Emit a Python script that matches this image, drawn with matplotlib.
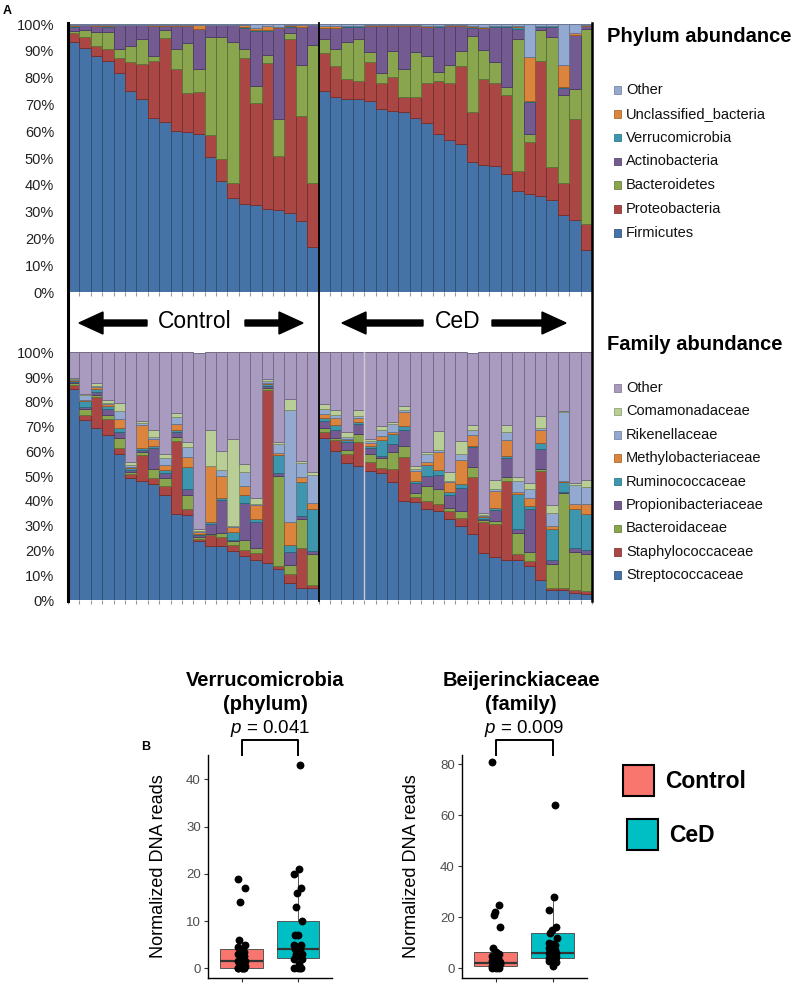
import numpy as np
import matplotlib
matplotlib.use('Agg')
import matplotlib.pyplot as plt
from matplotlib.patches import FancyArrow, Rectangle
from matplotlib.colors import to_rgb

plt.rcParams['font.family'] = ['Liberation Sans', 'DejaVu Sans']
plt.rcParams['mathtext.fontset'] = 'custom'
plt.rcParams['mathtext.it'] = 'Liberation Sans:italic'
plt.rcParams['mathtext.rm'] = 'Liberation Sans'

# ---- Panel A: phylum relative abundance (%), 22 Control then 24 CeD samples
firmicutes = [93.4, 90.9, 88.2, 86.3, 81.6, 75.1, 72.2, 64.8, 63.5, 60.0, 59.8, 58.9, 50.4, 41.6, 35.2, 33.0, 32.6, 31.1, 30.5, 29.6, 26.4, 16.8,
              75.1, 72.6, 72.2, 71.9, 71.4, 68.1, 67.6, 67.2, 65.1, 62.9, 58.9, 56.7, 55.2, 48.6, 47.4, 47.2, 44.1, 37.7, 36.7, 35.7, 34.5, 28.8, 26.8, 15.8]
proteobacteria = [3.1, 4.4, 3.6, 4.4, 5.9, 10.8, 12.7, 21.4, 31.4, 23.1, 14.3, 15.6, 8.3, 8.2, 5.3, 54.2, 38.1, 54.2, 20.4, 64.8, 39.4, 23.9,
                  13.9, 11.8, 7.1, 6.7, 14.5, 9.7, 12.7, 5.4, 7.5, 15.1, 19.7, 21.1, 29.2, 18.4, 31.9, 30.6, 29.5, 7.5, 19.3, 50.6, 12.2, 11.7, 37.6, 9.7]
bacteroidetes = [1.0, 2.5, 5.3, 6.4, 3.2, 5.9, 9.5, 2.0, 2.9, 7.4, 18.9, 8.6, 36.6, 45.5, 52.9, 3.5, 6.3, 3.1, 13.6, 2.1, 19.0, 51.6,
                 5.4, 6.3, 14.1, 15.8, 3.8, 3.8, 9.7, 10.7, 17.1, 10.2, 3.6, 7.0, 5.6, 28.6, 11.0, 7.9, 3.0, 49.1, 2.9, 11.5, 48.6, 33.0, 11.4, 72.6]
actinobacteria = [1.5, 1.8, 2.2, 1.9, 8.9, 7.8, 5.2, 11.1, 1.5, 8.8, 6.3, 14.9, 4.3, 4.3, 6.2, 7.9, 20.5, 9.1, 33.9, 2.5, 14.0, 7.3,
                  4.0, 7.7, 5.6, 4.6, 9.6, 17.7, 9.3, 16.0, 9.6, 10.6, 16.8, 14.5, 9.3, 3.0, 8.1, 13.3, 22.4, 3.7, 12.1, 1.2, 3.7, 2.8, 20.1, 1.2]
verrucomicrobia = [0.2, 0.1, 0.1, 0.1, 0.1, 0.1, 0.1, 0.1, 0.1, 0.1, 0.1, 0.1, 0.1, 0.1, 0.1, 0.1, 0.1, 0.1, 0.1, 0.1, 0.1, 0.1,
                   0.2, 0.1, 0.1, 0.1, 0.1, 0.1, 0.1, 0.1, 0.1, 0.1, 0.1, 0.1, 0.1, 0.1, 0.1, 0.1, 0.1, 1.0, 0.1, 0.1, 0.1, 0.1, 0.1, 0.1]
unclassified = [0.3, 0.1, 0.4, 0.7, 0.1, 0.1, 0.1, 0.3, 0.4, 0.3, 0.3, 1.4, 0.1, 0.1, 0.1, 0.8, 1.0, 1.8, 0.2, 0.6, 0.6, 0.1,
                0.8, 0.6, 0.3, 0.3, 0.3, 0.3, 0.3, 0.3, 0.3, 0.5, 0.3, 0.3, 0.3, 0.5, 0.4, 0.3, 0.3, 0.3, 16.5, 0.3, 0.3, 8.4, 0.6, 0.3]
other_phylum = [0.5, 0.2, 0.2, 0.2, 0.2, 0.2, 0.2, 0.3, 0.2, 0.3, 0.3, 0.5, 0.2, 0.2, 0.2, 0.5, 1.4, 0.6, 1.3, 0.3, 0.5, 0.2,
                0.6, 0.9, 0.6, 0.6, 0.3, 0.3, 0.3, 0.3, 0.3, 0.6, 0.6, 0.3, 0.3, 0.8, 1.1, 0.6, 0.6, 0.7, 12.4, 0.6, 0.6, 15.2, 3.4, 0.3]

# ---- Panel A: family relative abundance (%)
streptococcaceae = [85.1, 72.9, 69.6, 66.8, 59.0, 49.1, 47.9, 46.8, 42.5, 34.9, 34.5, 23.7, 22.0, 22.0, 19.7, 17.6, 16.3, 14.9, 12.6, 6.8, 4.7, 4.7,
                    65.5, 60.1, 55.2, 54.3, 52.2, 51.2, 47.5, 40.0, 39.6, 36.9, 36.0, 32.8, 30.1, 26.7, 19.0, 17.2, 16.3, 16.3, 13.6, 8.1, 4.1, 4.1, 2.7, 2.3]
staphylococcaceae = [1.7, 1.7, 12.5, 6.2, 2.3, 1.8, 10.7, 2.3, 3.4, 29.3, 2.4, 1.1, 4.1, 3.4, 2.4, 2.8, 2.6, 69.9, 1.2, 3.6, 16.3, 1.4,
                     2.3, 4.4, 3.8, 9.7, 3.4, 2.0, 5.4, 17.7, 2.1, 3.1, 2.7, 3.2, 3.1, 23.1, 12.5, 13.6, 31.9, 2.4, 2.1, 44.1, 0.6, 0.6, 1.4, 1.4]
bacteroidaceae = [0.7, 2.7, 0.7, 1.6, 4.1, 0.7, 1.1, 3.8, 3.2, 1.6, 5.6, 0.5, 0.6, 1.7, 1.6, 4.0, 2.1, 1.0, 36.1, 3.6, 11.6, 12.6,
                  1.8, 1.0, 1.8, 2.9, 3.4, 4.1, 7.1, 4.7, 1.7, 5.9, 6.3, 1.0, 2.8, 4.1, 0.7, 1.1, 1.6, 8.4, 3.7, 0.7, 9.8, 38.7, 15.3, 15.0]
propionibacteriaceae = [0.7, 0.7, 1.3, 2.7, 2.4, 0.9, 1.0, 8.6, 2.1, 2.0, 2.3, 0.8, 4.1, 13.2, 0.7, 14.9, 10.5, 0.7, 1.3, 5.4, 1.3, 1.0,
                        2.6, 3.3, 3.0, 4.3, 2.5, 1.0, 3.1, 6.4, 3.7, 4.3, 5.6, 5.5, 9.2, 7.8, 0.6, 4.3, 7.5, 1.4, 17.2, 8.2, 1.8, 0.4, 1.6, 1.7]
ruminococcaceae = [0.4, 2.5, 1.0, 0.9, 1.8, 0.8, 0.8, 0.9, 1.3, 0.7, 9.1, 0.6, 0.7, 1.1, 3.0, 3.0, 1.1, 0.6, 7.4, 2.7, 13.6, 17.2,
                   1.5, 1.8, 0.7, 0.7, 0.9, 6.2, 4.1, 1.5, 1.1, 4.5, 2.0, 1.2, 1.6, 0.7, 0.7, 1.1, 1.0, 14.2, 1.4, 2.3, 12.2, 3.7, 15.6, 14.2]
methylobacteriaceae = [0.3, 0.5, 0.8, 0.9, 3.4, 0.5, 9.3, 2.7, 2.0, 2.7, 4.0, 0.6, 22.5, 8.8, 2.2, 3.6, 5.7, 0.7, 0.8, 9.4, 2.3, 2.4,
                       1.6, 3.1, 0.6, 1.8, 1.0, 1.7, 0.6, 5.7, 4.0, 0.9, 7.4, 4.1, 9.9, 4.1, 0.4, 6.8, 6.2, 1.0, 3.4, 5.4, 1.6, 0.7, 2.1, 4.1]
rikenellaceae = [0.2, 1.8, 0.7, 0.5, 3.3, 0.7, 0.7, 0.7, 2.9, 2.7, 3.8, 0.5, 0.3, 2.3, 0.5, 5.9, 0.4, 0.7, 3.7, 45.2, 5.4, 11.2,
                 1.8, 1.0, 0.7, 0.6, 0.8, 2.6, 3.4, 0.9, 0.7, 3.2, 0.8, 0.4, 2.3, 2.0, 0.3, 0.7, 3.3, 4.5, 3.6, 0.7, 5.2, 27.8, 7.8, 7.0]
comamonadaceae = [0.5, 0.6, 1.2, 1.1, 3.1, 1.4, 0.7, 3.0, 1.4, 1.7, 2.3, 1.0, 14.2, 7.6, 35.0, 3.2, 2.7, 0.6, 0.7, 4.4, 0.8, 1.1,
                  2.0, 2.2, 2.0, 2.6, 0.9, 1.5, 0.7, 1.5, 1.4, 1.2, 7.4, 3.6, 5.2, 2.1, 1.1, 3.6, 3.0, 1.3, 2.1, 4.7, 3.1, 0.4, 0.6, 2.7]
other_family = [10.4, 16.6, 12.2, 19.3, 20.6, 44.1, 27.8, 31.2, 41.2, 24.4, 36.0, 71.2, 31.5, 39.9, 34.9, 45.0, 58.6, 10.9, 36.2, 18.9, 44.0, 48.4,
                20.9, 23.1, 32.2, 23.1, 34.9, 29.7, 28.1, 21.6, 45.7, 40.0, 31.8, 48.2, 35.8, 29.4, 64.7, 51.6, 29.2, 50.5, 52.9, 25.8, 61.6, 23.6, 52.9, 51.6]

n_control = 22

phylum_names = ['Firmicutes', 'Proteobacteria', 'Bacteroidetes', 'Actinobacteria',
                'Verrucomicrobia', 'Unclassified_bacteria', 'Other']
phylum_colors = ['#4572A7', '#AA4643', '#89A54E', '#735A91', '#3D96AE', '#DB843D', '#93A9CF']
family_names = ['Streptococcaceae', 'Staphylococcaceae', 'Bacteroidaceae', 'Propionibacteriaceae',
                'Ruminococcaceae', 'Methylobacteriaceae', 'Rikenellaceae', 'Comamonadaceae', 'Other']
family_colors = ['#4572A7', '#AA4643', '#89A54E', '#735A91', '#3D96AE', '#DB843D', '#93A9CF', '#B9CD96', '#A99BBF']

# ---- Panel B: normalized reads
verr_control = [0, 0, 0, 0, 0, 0, 0.5, 1, 1, 1.5, 1.5, 2, 2.5, 3, 3.5, 4, 4.5, 5, 6, 14, 17, 19]
verr_ced = [0, 0, 0, 0, 1, 2, 2, 2.5, 3, 3, 4, 4, 4, 5, 5, 7, 7, 10, 13, 16, 17, 20, 21, 43]
beij_control = [0, 0, 0, 0.5, 1, 1, 1.5, 2, 2, 2.5, 3, 3.5, 4, 5, 5.5, 6.5, 8, 16, 21, 22, 25, 81]
beij_ced = [1, 2.5, 3, 3.5, 4, 4, 4.5, 5, 5.5, 6, 6, 6.5, 7, 8, 9, 9.5, 10, 12, 14, 15, 16, 23, 28, 64]
# box stats: q1, median, q3, lower whisker, upper whisker
verr_box = [(0.0, 1.6, 4.1, 0.0, 6.0), (2.1, 4.1, 10.0, 0.0, 21.0)]
beij_box = [(0.8, 2.2, 6.5, 0.0, 8.0), (3.9, 6.1, 14.0, 1.0, 28.0)]
group_names = ['Control', 'CeD']
group_colors = ['#F8766D', '#00BFC4']

fig = plt.figure(figsize=(8, 9.84), dpi=100)


def px_axes(left, top, right, bottom):
    # axes placed with pixel edges of the 800x984 canvas
    return fig.add_axes([left / 800, 1 - bottom / 984, (right - left) / 800, (bottom - top) / 984])


def darker(c, f=0.7):
    return tuple(v * f for v in to_rgb(c))


def stacked(ax, series, colors):
    x = np.arange(len(series[0]))
    base = np.zeros(len(x))
    for vals, col in zip(series, colors):
        vals = np.asarray(vals, dtype=float)
        ax.bar(x, vals, bottom=base, width=1.0, color=col, edgecolor=darker(col), linewidth=0.7)
        base += vals
    ax.set_xlim(-0.5, len(x) - 0.5)
    ax.set_ylim(0, 100)
    ax.set_yticks(np.arange(0, 101, 10))
    ax.set_yticklabels([f'{v}%' for v in range(0, 101, 10)], fontsize=10.5, color='#222222')
    ax.tick_params(axis='y', length=0, pad=10)
    ax.set_xticks(np.arange(-0.5, len(x), 1.0))
    ax.set_xticklabels([])
    ax.tick_params(axis='x', length=3, color='#999999', width=0.8)
    for s in ax.spines.values():
        s.set_visible(False)


ax1 = px_axes(68, 24, 592, 292)
stacked(ax1, [firmicutes, proteobacteria, bacteroidetes, actinobacteria,
              verrucomicrobia, unclassified, other_phylum], phylum_colors)

ax2 = px_axes(68, 352.5, 592, 600)
stacked(ax2, [streptococcaceae, staphylococcaceae, bacteroidaceae, propionibacteriaceae,
              ruminococcaceae, methylobacteriaceae, rikenellaceae, comamonadaceae, other_family], family_colors)
ax2.axvline(n_control + 3.5, color='#cccccc', lw=1)


def box_panel(ax, pts_list, box_stats, ylim, yticks, title, pval):
    stats = [dict(q1=q1, med=med, q3=q3, whislo=lo, whishi=hi, fliers=[])
             for (q1, med, q3, lo, hi) in box_stats]
    bp = ax.bxp(stats, positions=[1, 2], widths=0.75, patch_artist=True, showcaps=False,
                boxprops=dict(edgecolor='#555555', linewidth=0.7),
                whiskerprops=dict(color='#555555', linewidth=0.7),
                medianprops=dict(color='#333333', linewidth=1.6))
    for patch, col in zip(bp['boxes'], group_colors):
        patch.set_facecolor(col)
    for pos, pts in zip([1, 2], pts_list):
        n = len(pts)
        jit = 0.07 * np.sin(np.arange(n) * 2.3)
        ax.scatter(pos + jit, pts, s=32, color='black', zorder=3, linewidths=0)
    ax.set_xlim(0.4, 2.6)
    ax.set_ylim(*ylim)
    ax.set_yticks(yticks)
    ax.set_xticks([1, 2])
    ax.set_xticklabels([])
    ax.tick_params(axis='both', length=3, color='#333333', width=0.8)
    ax.tick_params(axis='y', labelsize=9.5, labelcolor='#4D4D4D', pad=2)
    for s in ['top', 'right']:
        ax.spines[s].set_visible(False)
    for s in ['left', 'bottom']:
        ax.spines[s].set_linewidth(1.0)
    ax.set_ylabel('Normalized DNA reads', fontsize=13)
    ax.yaxis.set_label_coords(-0.33, 0.5)
    tr = ax.get_xaxis_transform()
    ax.plot([1, 1, 2, 2], [1.0, 1.067, 1.067, 1.0], transform=tr, color='black', lw=1.4, clip_on=False)
    ax.text(1.5, 1.117, r'$p$ = ' + pval, transform=tr, ha='center', va='center', fontsize=13.5)


axb1 = px_axes(207.7, 755, 331.7, 977.7)
box_panel(axb1, [verr_control, verr_ced], verr_box, (-1.99, 45.14), [0, 10, 20, 30, 40],
          'Verrucomicrobia', '0.041')
axb2 = px_axes(461.7, 755, 586.7, 977.7)
box_panel(axb2, [beij_control, beij_ced], beij_box, (-3.69, 83.65), [0, 20, 40, 60, 80],
          'Beijerinckiaceae', '0.009')

# overlay in pixel coordinates for frame lines, arrows, legends and titles
ov = fig.add_axes([0, 0, 1, 1], zorder=10)
ov.set_xlim(0, 800)
ov.set_ylim(984, 0)
ov.axis('off')

ov.plot([68, 68], [23, 601], color='black', lw=2.2)
ov.plot([319.3, 319.3], [23, 601], color='black', lw=1.3)
ov.plot([592, 592], [23, 601], color='black', lw=1.8)

arrow_kw = dict(width=6, head_width=22, head_length=24, length_includes_head=True, color='black')
ov.add_patch(FancyArrow(147, 323, -68, 0, **arrow_kw))
ov.add_patch(FancyArrow(245, 323, 58, 0, **arrow_kw))
ov.add_patch(FancyArrow(423, 323, -81, 0, **arrow_kw))
ov.add_patch(FancyArrow(492, 323, 74, 0, **arrow_kw))
ov.text(195, 322, 'Control', ha='center', va='center', fontsize=16.5)
ov.text(457.5, 322, 'CeD', ha='center', va='center', fontsize=16.5)

ov.text(3, 11, 'A', ha='left', va='center', fontsize=9, fontweight='bold')
ov.text(146, 747, 'B', ha='center', va='center', fontsize=9, fontweight='bold')


def side_legend(title, title_y, names, colors, first_y, step):
    ov.text(607, title_y, title, ha='left', va='center', fontsize=14.5, fontweight='bold')
    for i, (name, col) in enumerate(zip(names[::-1], colors[::-1])):
        y = first_y + i * step
        ov.add_patch(Rectangle((613.5, y - 3.8), 7.6, 7.6, facecolor=col, edgecolor=darker(col, 0.8), lw=0.6))
        ov.text(626, y, name, ha='left', va='center', fontsize=10.5, color='#111111')


side_legend('Phylum abundance', 37, phylum_names, phylum_colors, 90, 23.8)
side_legend('Family abundance', 345, family_names, family_colors, 388, 23.4)

# panel B titles
ov.text(265, 680, 'Verrucomicrobia', ha='center', va='center', fontsize=14.5, fontweight='bold')
ov.text(265, 705, '(phylum)', ha='center', va='center', fontsize=14.5, fontweight='bold')
ov.text(521, 680, 'Beijerinckiaceae', ha='center', va='center', fontsize=14.5, fontweight='bold')
ov.text(521, 705, '(family)', ha='center', va='center', fontsize=14.5, fontweight='bold')

# panel B legend
for name, col, (x0, y0) in zip(group_names, group_colors, [(623, 765), (627, 819)]):
    ov.add_patch(Rectangle((x0, y0), 31, 31, facecolor=col, edgecolor='black', lw=1.5))
    ov.text(x0 + 42, y0 + 17, name, ha='left', va='center', fontsize=16.5, fontweight='bold')

fig.savefig('out.png', dpi=100)
